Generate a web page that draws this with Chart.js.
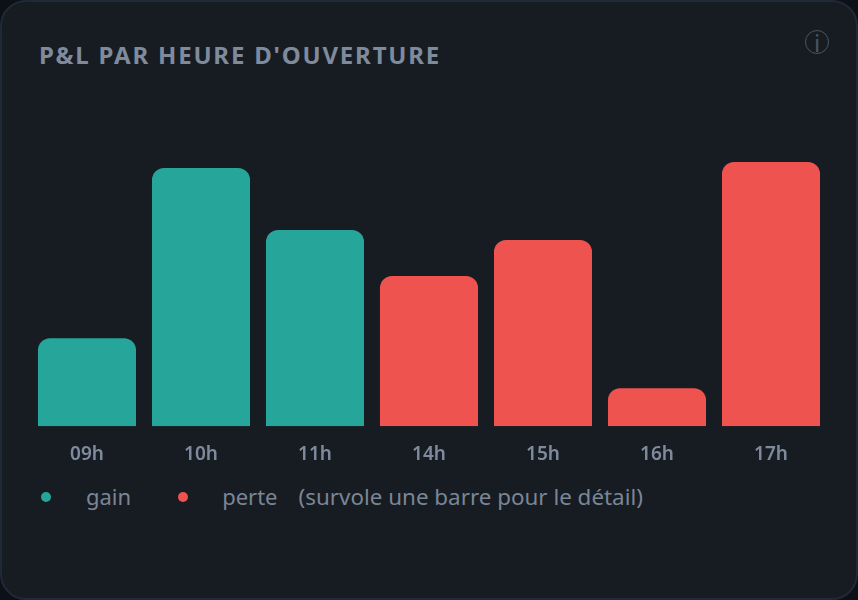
<!DOCTYPE html>
<html lang="fr">
<head>
<meta charset="utf-8">
<title>P&amp;L par heure d'ouverture</title>
<script src="https://cdn.jsdelivr.net/npm/chart.js@4"></script>
<style>
  html, body { margin: 0; height: 100%; background: #0d1117; overflow: hidden; }
  body { font-family: "Noto Sans", sans-serif; }
  .card {
    position: relative; box-sizing: border-box; width: 858px; height: 600px;
    background: #171c23; border: 2px solid #1f2937; border-radius: 26px;
  }
  .title {
    position: absolute; left: 37px; top: 37px; margin: 0;
    font-size: 24px; line-height: 32px; font-weight: 700; letter-spacing: 1.8px; color: #7f8b9d;
  }
  .info {
    position: absolute; left: 803px; top: 28px; width: 22px; height: 22px;
    border: 1.5px solid #4b5563; border-radius: 50%; color: #4b5563;
    font-size: 24px; line-height: 24px; text-align: center;
  }
  .chart-box { position: absolute; left: 28px; top: 124px; width: 798px; height: 349px; }
  .legend {
    position: absolute; left: 39px; top: 478px; height: 32px;
    display: flex; align-items: center;
    font-size: 22px; color: #7a8696;
  }
  .dot { width: 10px; height: 10px; border-radius: 50%; position: relative; top: 1px; }
</style>
</head>
<body>
<div class="card">
  <h1 class="title">P&amp;L PAR HEURE D'OUVERTURE</h1>
  <div class="info">i</div>
  <div class="chart-box"><canvas id="pnl"></canvas></div>
  <div class="legend">
    <span class="dot" style="background:#26a69a"></span>
    <span style="margin-left:35px">gain</span>
    <span class="dot" style="background:#ef5350;margin-left:47px"></span>
    <span style="margin-left:34px">perte</span>
    <span style="margin-left:21px;font-size:22.4px">(survole une barre pour le détail)</span>
  </div>
</div>
<script>
var heures = ['09h', '10h', '11h', '14h', '15h', '16h', '17h'];
var montants = [88, 258, 196, 150, 186, 38, 264];
var sens = ['gain', 'gain', 'gain', 'perte', 'perte', 'perte', 'perte'];

var couleurs = { gain: '#26a69a', perte: '#ef5350' };

var ctx = document.getElementById('pnl').getContext('2d');
var myChart = new Chart(ctx, {
    type: 'bar',
    data: {
        labels: heures,
        datasets: [{
            label: 'P&L',
            data: montants,
            backgroundColor: sens.map(function (s) { return couleurs[s]; }),
            borderRadius: { topLeft: 12, topRight: 12, bottomLeft: 0, bottomRight: 0 },
            borderSkipped: false,
            categoryPercentage: 1,
            barPercentage: 0.86
        }]
    },
    options: {
        responsive: true,
        maintainAspectRatio: false,
        animation: false,
        layout: { padding: 0 },
        plugins: { legend: { display: false }, tooltip: { enabled: true } },
        scales: {
            x: {
                grid: { display: false },
                border: { display: false },
                ticks: {
                    color: '#7f8b9d',
                    padding: 9,
                    maxRotation: 0,
                    font: { family: '"Noto Sans", sans-serif', size: 19, weight: '600' }
                }
            },
            y: { display: false, min: 0, max: 300 }
        }
    }
});
</script>
</body>
</html>
